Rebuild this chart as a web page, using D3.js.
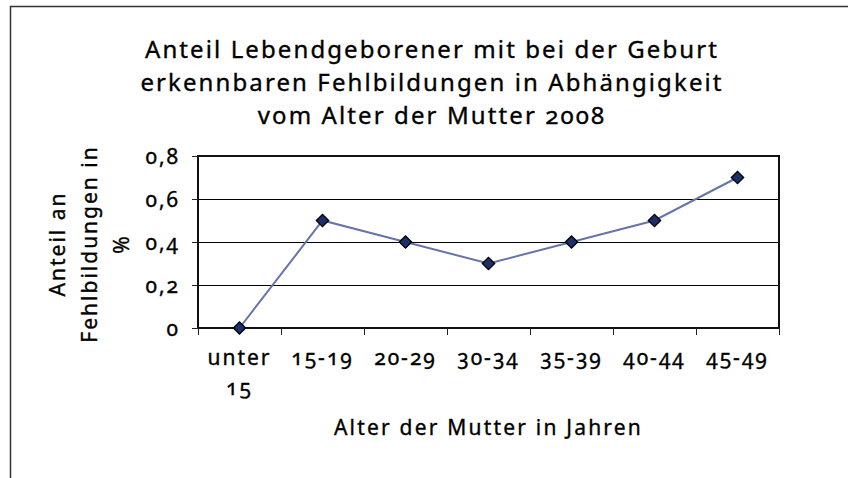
<!DOCTYPE html>
<html>
<head>
<meta charset="utf-8">
<script src="https://cdn.jsdelivr.net/npm/d3@7"></script>
<style>
  body { margin: 0; background: #fff; }
  svg text { font-family: "Noto Sans", "Open Sans", sans-serif; font-variant-numeric: oldstyle-nums; fill: #000; stroke: #000; stroke-width: 0.35px; }
</style>
</head>
<body>
<svg id="canvas"></svg>
<script>
// Werte
let ageGroups = ['unter 15', '15-19', '20-29', '30-34', '35-39', '40-44', '45-49'];
let shares = [0, 0.5, 0.4, 0.3, 0.4, 0.5, 0.7];
let yTicks = [0, 0.2, 0.4, 0.6, 0.8];
let titleLines = ['Anteil Lebendgeborener mit bei der Geburt', 'erkennbaren Fehlbildungen in Abhängigkeit', 'vom Alter der Mutter 2008'];
let yTitleLines = ['Anteil an', 'Fehlbildungen in', '%'];
let xTitle = 'Alter der Mutter in Jahren';

let canvas = d3.select('#canvas');

let drawChart = () => {
  const width = 848;
  const height = 478;
  canvas.attr('width', width).attr('height', height);

  // Rahmen (nur links und oben sichtbar)
  canvas.append('path')
    .attr('d', `M10.5,${height} L10.5,6.5 L${width},6.5`)
    .attr('fill', 'none')
    .attr('stroke', '#333')
    .attr('stroke-width', 1.5);

  const plot = { left: 198, right: 779, top: 156, bottom: 328 };

  const x = d3.scaleBand().domain(ageGroups).range([plot.left, plot.right]);
  const y = d3.scaleLinear().domain([0, 0.8]).range([plot.bottom, plot.top]);

  // Gitterlinien
  canvas.append('g')
    .selectAll('line')
    .data(yTicks.filter(d => d > 0))
    .enter()
    .append('line')
    .attr('x1', plot.left).attr('x2', plot.right)
    .attr('y1', d => Math.round(y(d)) + 0.5).attr('y2', d => Math.round(y(d)) + 0.5)
    .attr('stroke', '#000').attr('stroke-width', 1.2);

  // Rahmen der Zeichenfläche
  canvas.append('rect')
    .attr('x', plot.left).attr('y', plot.top)
    .attr('width', plot.right - plot.left)
    .attr('height', plot.bottom - plot.top)
    .attr('fill', 'none')
    .attr('stroke', '#111')
    .attr('stroke-width', 2);

  // y-Achse
  const yAxis = d3.axisLeft(y)
    .tickValues(yTicks)
    .tickSize(6)
    .tickPadding(12)
    .tickFormat(d => d3.format('.1f')(d).replace('.', ',').replace('0,0', '0'));
  const yg = canvas.append('g')
    .attr('transform', `translate(${plot.left},0)`)
    .call(yAxis);
  yg.select('.domain').remove();
  yg.selectAll('line').attr('stroke', '#222');
  yg.selectAll('text')
    .attr('font-size', 21)
    .attr('letter-spacing', 2)
    .attr('dy', '0.35em');

  // x-Achse, Teilstriche an den Kategoriegrenzen
  const xg = canvas.append('g');
  const bounds = ageGroups.map(d => x(d)).concat([plot.right]);
  xg.selectAll('line')
    .data(bounds)
    .enter()
    .append('line')
    .attr('x1', d => Math.round(d) + 0.5).attr('x2', d => Math.round(d) + 0.5)
    .attr('y1', plot.bottom).attr('y2', plot.bottom + 7)
    .attr('stroke', '#222');

  xg.selectAll('text')
    .data(ageGroups)
    .enter()
    .append('text')
    .attr('x', d => x(d) + x.bandwidth() / 2)
    .attr('y', 365)
    .attr('text-anchor', 'middle')
    .attr('font-size', 21)
    .attr('letter-spacing', 2)
    .each(function(d) {
      const parts = d.split(' ');
      const t = d3.select(this);
      parts.forEach((p, i) => {
        t.append('tspan')
          .attr('x', x(d) + x.bandwidth() / 2)
          .attr('dy', i === 0 ? 0 : 30)
          .text(p);
      });
    });

  // Linie
  const line = d3.line()
    .x((d, i) => x(ageGroups[i]) + x.bandwidth() / 2)
    .y(d => y(d));

  canvas.append('path')
    .datum(shares)
    .attr('d', line)
    .attr('fill', 'none')
    .attr('stroke', '#6674aa')
    .attr('stroke-width', 2);

  // Marker
  canvas.selectAll('.marker')
    .data(shares)
    .enter()
    .append('path')
    .attr('class', 'marker')
    .attr('d', d3.symbol().type(d3.symbolSquare).size(76))
    .attr('transform', (d, i) => `translate(${x(ageGroups[i]) + x.bandwidth() / 2},${y(d)}) rotate(45)`)
    .attr('fill', '#1c2f66')
    .attr('stroke', '#000')
    .attr('stroke-width', 1.3);

  // Titel
  canvas.append('text')
    .attr('text-anchor', 'middle')
    .attr('font-size', 24)
    .attr('letter-spacing', 2.1)
    .selectAll('tspan')
    .data(titleLines)
    .enter()
    .append('tspan')
    .attr('x', 432)
    .attr('y', (d, i) => 58 + i * 33)
    .text(d => d);

  // y-Achsentitel
  canvas.append('text')
    .attr('transform', 'translate(90,244) rotate(-90)')
    .attr('text-anchor', 'middle')
    .attr('font-size', 21)
    .attr('letter-spacing', 2)
    .selectAll('tspan')
    .data(yTitleLines)
    .enter()
    .append('tspan')
    .attr('x', 0)
    .attr('y', (d, i) => (i - 1) * 32 + 7)
    .text(d => d);

  // x-Achsentitel
  canvas.append('text')
    .attr('x', (plot.left + plot.right) / 2)
    .attr('y', 435)
    .attr('text-anchor', 'middle')
    .attr('font-size', 21)
    .attr('letter-spacing', 2.2)
    .text(xTitle);
};

drawChart();
</script>
</body>
</html>
